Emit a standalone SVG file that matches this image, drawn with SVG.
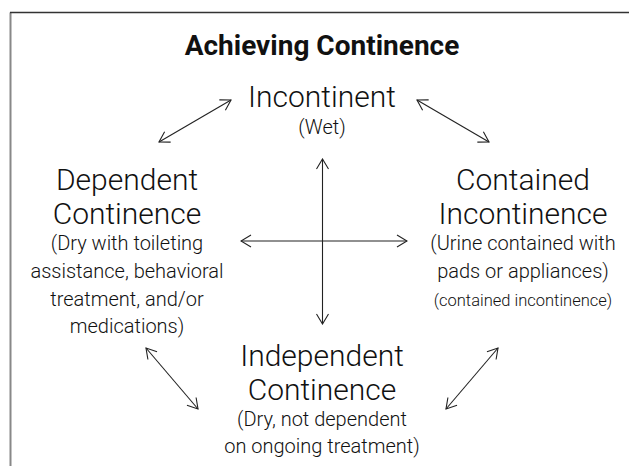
<svg xmlns="http://www.w3.org/2000/svg" width="629" height="466" viewBox="0 0 629 466">
<style>
text{font-family:Roboto,"Noto Sans","DejaVu Sans",sans-serif;fill:#111;text-anchor:middle}
.t{font-size:28px;font-weight:bold}
.h{font-size:30px;font-weight:300}
.s{font-size:20px;font-weight:300}
.xs{font-size:16.5px;font-weight:300}
.c{stroke:#222;stroke-width:1.1;fill:none;marker-start:url(#ah);marker-end:url(#ah)}
</style>
<defs>
<marker id="ah" viewBox="0 0 12 14" refX="11" refY="7" markerWidth="12" markerHeight="14" markerUnits="userSpaceOnUse" orient="auto-start-reverse">
<path d="M1,1 L11,7 L1,13" fill="none" stroke="#222" stroke-width="1.1"/>
</marker>
</defs>
<rect width="629" height="466" fill="#fff"/>
<path d="M10.5,466 V12.5" fill="none" stroke="#888" stroke-width="2"/>
<path d="M10,12.5 H629" fill="none" stroke="#333" stroke-width="1.5"/>
<text class="t" x="322" y="55">Achieving Continence</text>
<g id="incontinent">
<text class="h" x="322" y="107">Incontinent</text>
<text class="s" x="322" y="134">(Wet)</text>
</g>
<g id="dependent">
<text class="h" x="127" y="190">Dependent</text>
<text class="h" x="127" y="224">Continence</text>
<text class="s" x="127" y="250">(Dry with toileting</text>
<text class="s" x="127" y="278">assistance, behavioral</text>
<text class="s" x="127" y="306">treatment, and/or</text>
<text class="s" x="127" y="333">medications)</text>
</g>
<g id="contained">
<text class="h" x="523" y="190">Contained</text>
<text class="h" x="523" y="224">Incontinence</text>
<text class="s" x="523" y="250">(Urine contained with</text>
<text class="s" x="523" y="278">pads or appliances)</text>
<text class="xs" x="523" y="306">(contained incontinence)</text>
</g>
<g id="independent">
<text class="h" x="322" y="366">Independent</text>
<text class="h" x="322" y="400">Continence</text>
<text class="s" x="322" y="426">(Dry, not dependent</text>
<text class="s" x="322" y="453">on ongoing treatment)</text>
</g>
<g id="connectors">
<line class="c" x1="159" y1="142" x2="231" y2="100"/>
<line class="c" x1="417" y1="100" x2="489" y2="142"/>
<line class="c" x1="322.5" y1="159" x2="322.5" y2="324"/>
<line class="c" x1="241" y1="241" x2="407" y2="241"/>
<line class="c" x1="146" y1="348" x2="198" y2="409"/>
<line class="c" x1="498" y1="348" x2="446" y2="409"/>
</g>
</svg>
